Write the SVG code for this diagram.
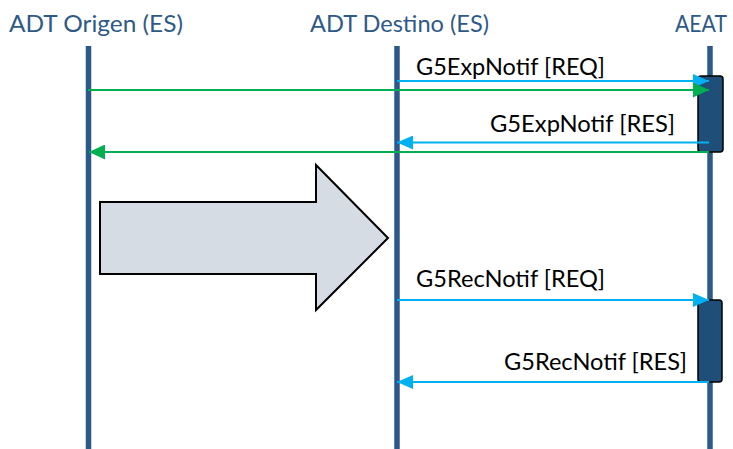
<svg xmlns="http://www.w3.org/2000/svg" width="733" height="449" viewBox="0 0 733 449">
  <style>
    .hdr { font-family: Lato, "Open Sans", "Liberation Sans", sans-serif; font-size: 24px; fill: #2E5A87; }
    .lbl { font-family: Lato, "Open Sans", "Liberation Sans", sans-serif; font-size: 24px; fill: #000000; }
    .life { stroke: #2B5A8A; stroke-width: 5.5; fill: none; }
    .act { fill: #1F4E79; stroke: #000000; stroke-width: 1.5; }
    .blue { stroke: #00B0F0; stroke-width: 2; fill: none; marker-end: url(#headBlue); }
    .green { stroke: #00B050; stroke-width: 2; fill: none; marker-end: url(#headGreen); }
  </style>
  <defs>
    <marker id="headBlue" viewBox="0 0 16 14" refX="16" refY="7" markerWidth="16" markerHeight="14" markerUnits="userSpaceOnUse" orient="auto">
      <path d="M0,0 L16,7 L0,14 z" fill="#00B0F0"/>
    </marker>
    <marker id="headGreen" viewBox="0 0 16 15" refX="16" refY="7.5" markerWidth="16" markerHeight="15" markerUnits="userSpaceOnUse" orient="auto">
      <path d="M0,0 L16,7.5 L0,15 z" fill="#00B050"/>
    </marker>
  </defs>
  <rect x="0" y="0" width="733" height="449" fill="#FFFFFF"/>

  <g id="origen">
    <text class="hdr" x="9" y="32" textLength="174" lengthAdjust="spacingAndGlyphs">ADT Origen (ES)</text>
    <line class="life" x1="88.5" y1="46" x2="88.5" y2="449"/>
  </g>
  <g id="destino">
    <text class="hdr" x="310" y="32" textLength="179" lengthAdjust="spacingAndGlyphs">ADT Destino (ES)</text>
    <line class="life" x1="397" y1="46" x2="397" y2="449"/>
  </g>
  <g id="aeat">
    <text class="hdr" x="675" y="32" textLength="52" lengthAdjust="spacingAndGlyphs">AEAT</text>
    <line class="life" x1="710" y1="46" x2="710" y2="449"/>
    <rect class="act" x="698" y="76" width="25" height="76" rx="3"/>
    <rect class="act" x="698" y="300" width="24" height="82" rx="3"/>
  </g>

  <g id="block-arrow">
    <polygon points="100,202 316,202 316,165 388,238 316,310 316,274 100,274" fill="#D6DCE4" stroke="#000000" stroke-width="2" stroke-linejoin="miter"/>
  </g>

  <g id="connectors">
    <line class="blue" x1="397" y1="81" x2="709" y2="81"/>
    <line class="green" x1="88" y1="90" x2="709" y2="90"/>
    <line class="blue" x1="709" y1="142.5" x2="397" y2="142.5"/>
    <line class="green" x1="709" y1="152" x2="89" y2="152"/>
    <line class="blue" x1="397" y1="300" x2="709" y2="300"/>
    <line class="blue" x1="709" y1="382" x2="397" y2="382"/>
  </g>

  <g id="labels">
    <text class="lbl" x="416" y="75" textLength="189" lengthAdjust="spacingAndGlyphs">G5ExpNotif [REQ]</text>
    <text class="lbl" x="490" y="132" textLength="185" lengthAdjust="spacingAndGlyphs">G5ExpNotif [RES]</text>
    <text class="lbl" x="416" y="287" textLength="189" lengthAdjust="spacingAndGlyphs">G5RecNotif [REQ]</text>
    <text class="lbl" x="504" y="370" textLength="183" lengthAdjust="spacingAndGlyphs">G5RecNotif [RES]</text>
  </g>
</svg>
